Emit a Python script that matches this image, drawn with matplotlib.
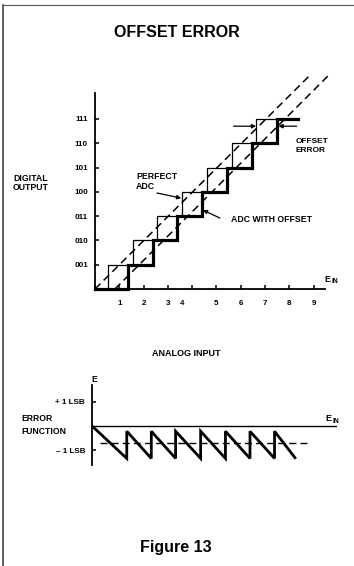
import matplotlib
matplotlib.use('agg')
import matplotlib.pyplot as plt
from matplotlib.lines import Line2D

plt.rcParams['font.family'] = ['Liberation Sans', 'DejaVu Sans']
plt.rcParams['font.weight'] = 'bold'

# --- data ---
codes = [1, 2, 3, 4, 5, 6, 7]
code_labels = ['001', '010', '011', '100', '101', '110', '111']
# input where each code starts
perfect_steps = [0.55, 1.55, 2.57, 3.57, 4.6, 5.63, 6.63]
offset_steps = [1.37, 2.37, 3.36, 4.39, 5.42, 6.45, 7.5]
offset_end = 8.35
perfect_end = 7.5
ideal_line_x = [0.0, 8.85]
ideal_line_y = [0.0, 8.8]
offset_line_x = [0.82, 9.6]
offset_line_y = [0.0, 8.78]
x_ticks = [0, 1, 2, 3, 4, 5, 6, 7, 8, 9]
x_label_text = ['1', '2', '3', '4', '5', '6', '7', '8', '9']
x_label_pos = [1, 2, 3, 3.6, 5, 6, 7, 8, 9]

# error function (LSB) vs input
err_jumps = [1.43, 2.44, 3.44, 4.47, 5.49, 6.5, 7.51]
err_top = -0.22
err_bottom = -1.35
err_end_x = 8.35
err_end_y = -1.32
err_mean = -0.7


def staircase(steps, end):
    xs, ys = [0.0], [0]
    for c, s in zip(codes, steps):
        xs += [s, s]
        ys += [c - 1, c]
    xs.append(end)
    ys.append(codes[-1])
    return xs, ys


fig = plt.figure(figsize=(3.54, 5.66), dpi=100)

# page border (left and top only)
fig.add_artist(Line2D([0.008, 0.008], [0.0, 0.991], color='#444444', lw=1.2))
fig.add_artist(Line2D([0.008, 1.0], [0.991, 0.991], color='#555555', lw=0.8))

fig.text(0.5, 0.942, 'OFFSET ERROR', ha='center', va='center', fontsize=11.5)
fig.text(0.497, 0.033, 'Figure 13', ha='center', va='center', fontsize=11.5)

# ---------- transfer function ----------
ax = fig.add_axes([95 / 354, 277 / 566, 230.1 / 354, 196.1 / 566])
ax.set_xlim(0, 9.47)
ax.set_ylim(0, 8.07)
for s in ['top', 'right']:
    ax.spines[s].set_visible(False)
for s in ['left', 'bottom']:
    ax.spines[s].set_linewidth(1.3)

ax.set_yticks(codes)
ax.set_yticklabels(code_labels)
ax.set_xticks(x_ticks)
ax.set_xticklabels([])
ax.tick_params(axis='both', direction='in', length=3, width=1.1)
ax.tick_params(axis='y', labelsize=5.8, pad=5)

px, py = staircase(perfect_steps, perfect_end)
ox, oy = staircase(offset_steps, offset_end)
ax.plot(px, py, color='black', lw=0.9, clip_on=False, solid_joinstyle='miter')
ax.plot(ox, oy, color='black', lw=2.3, clip_on=False, solid_joinstyle='miter')
ax.plot(ideal_line_x, ideal_line_y, color='black', lw=1.1, ls=(0, (5, 3)), clip_on=False)
ax.plot(offset_line_x, offset_line_y, color='black', lw=1.1, ls=(0, (5, 3)), clip_on=False)

for t, p in zip(x_label_text, x_label_pos):
    ax.text(p, -0.58, t, ha='center', va='center', fontsize=5.8)

arrow = dict(arrowstyle='-|>', lw=0.9, color='black', mutation_scale=6,
             shrinkA=0, shrinkB=0)
ax.annotate('', xy=(perfect_steps[-1], 6.7), xytext=(5.7, 6.7), arrowprops=arrow,
            annotation_clip=False)
ax.annotate('', xy=(offset_steps[-1] + 0.05, 6.7), xytext=(8.3, 6.7), arrowprops=arrow,
            annotation_clip=False)
ax.annotate('', xy=(3.55, 3.74), xytext=(2.55, 3.95), arrowprops=arrow)
ax.annotate('', xy=(4.44, 3.25), xytext=(5.14, 2.92), arrowprops=arrow)

ax.text(8.27, 5.88, 'OFFSET\nERROR', ha='left', va='center', fontsize=6, linespacing=1.5)
ax.text(1.69, 4.42, 'PERFECT\nADC', ha='left', va='center', fontsize=6.3, linespacing=1.1)
ax.text(5.6, 2.88, 'ADC WITH OFFSET', ha='left', va='center', fontsize=6.3)
ax.text(-3.37, 4.36, 'DIGITAL\nOUTPUT', ha='left', va='center', fontsize=6.3, linespacing=1.1)
ax.text(9.45, 0.4, 'E', ha='left', va='center', fontsize=6.5)
ax.text(9.72, 0.3, 'IN', ha='left', va='center', fontsize=4.8)
ax.text(3.74, -2.64, 'ANALOG INPUT', ha='center', va='center', fontsize=6.5)

# ---------- error function ----------
bx = fig.add_axes([92 / 354, 101.1 / 566, 245 / 354, 80 / 566])
bx.set_xlim(0, 10.08)
bx.set_ylim(-1.62, 1.71)
for s in ['top', 'right', 'bottom']:
    bx.spines[s].set_visible(False)
bx.spines['left'].set_linewidth(1.3)
bx.set_xticks([])
bx.set_yticks([1, -1])
bx.set_yticklabels(['+ 1 LSB', '\u2013 1 LSB'])
bx.tick_params(axis='y', direction='in', length=3, width=1.1, labelsize=5.8, pad=5)

bx.axhline(0, color='black', lw=1.0)
bx.plot([0.33, 8.97], [err_mean, err_mean], color='black', lw=1.0, ls=(0, (5, 3)))

sx, sy = [0.0], [0.0]
for j in err_jumps:
    sx += [j, j]
    sy += [err_bottom, err_top]
sx.append(err_end_x)
sy.append(err_end_y)
bx.plot(sx, sy, color='black', lw=2.0, solid_joinstyle='miter')

bx.text(0.08, 1.92, 'E', ha='center', va='center', fontsize=6.3)
bx.text(9.62, 0.3, 'E', ha='left', va='center', fontsize=6.5)
bx.text(9.89, 0.2, 'IN', ha='left', va='center', fontsize=4.8)
bx.text(-2.92, 0.05, 'ERROR\nFUNCTION', ha='left', va='center', fontsize=6.2, linespacing=1.5)

fig.savefig('out.png', dpi=100)
